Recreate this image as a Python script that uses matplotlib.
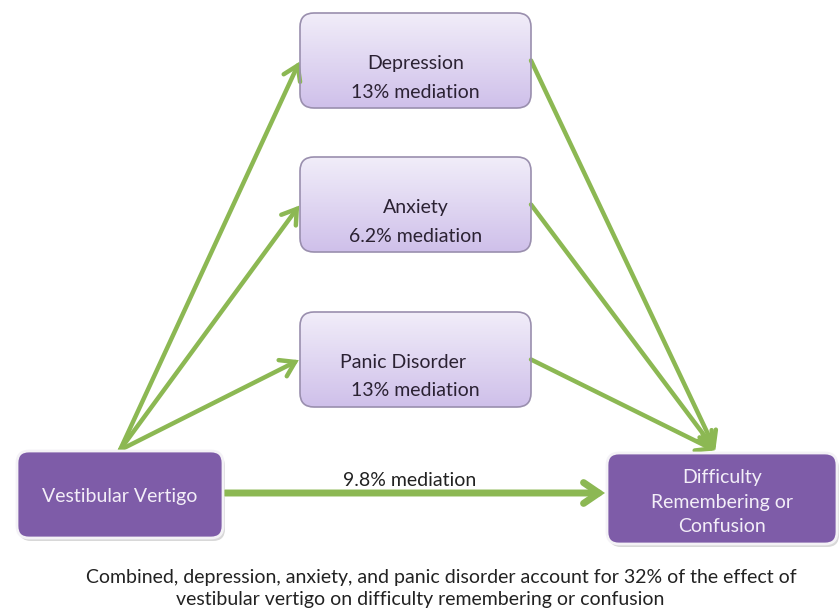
import matplotlib
matplotlib.use("Agg")
import matplotlib.pyplot as plt
import numpy as np
from matplotlib.patches import FancyBboxPatch, FancyArrowPatch
from matplotlib.colors import LinearSegmentedColormap

plt.rcParams['font.family'] = ['Lato', 'DejaVu Sans']

# data
predictor = "Vestibular Vertigo"
outcome_lines = ["Difficulty", "Remembering or", "Confusion"]
mediators = ["Depression", "Anxiety", "Panic Disorder"]
mediation_pct = ["13%", "6.2%", "13%"]
direct_pct = "9.8%"
caption_lines = ["Combined, depression, anxiety, and panic disorder account for 32% of the effect of",
                 "vestibular vertigo on difficulty remembering or confusion"]

# layout (pixel units, y downwards)
med_x0, med_x1 = 300, 531
med_tops = [13, 157, 312]
med_h = 95
pred_box = (17, 451, 206, 87)
out_box = (607, 453, 230, 91)

fig = plt.figure(figsize=(8.4, 6.13), dpi=100)
ax = fig.add_axes([0, 0, 1, 1])
ax.set_xlim(0, 840)
ax.set_ylim(613, 0)
ax.axis('off')

green = '#8cb853'
light_edge = '#9a8fae'
dark = '#7e5ca8'
fs = 14

grad = np.linspace(0, 1, 100).reshape(-1, 1)
cmap = LinearSegmentedColormap.from_list('lav', ['#f1edf9', '#cfc0ea'])

for top, name, pct in zip(med_tops, mediators, mediation_pct):
    box = FancyBboxPatch((med_x0, top), med_x1 - med_x0, med_h,
                         boxstyle="round,pad=0,rounding_size=14",
                         fc='none', ec=light_edge, lw=1.2, zorder=3)
    ax.add_patch(box)
    im = ax.imshow(grad, cmap=cmap, extent=(med_x0, med_x1, top + med_h, top),
                   aspect='auto', zorder=2)
    im.set_clip_path(box)
    cx = (med_x0 + med_x1) / 2
    if name == "Panic Disorder":
        ax.text(cx - 12, top + 50, name, ha='center', va='center', fontsize=fs,
                color='#2b2233', zorder=4)
        ax.text(cx, top + 78, pct + " mediation", ha='center', va='center',
                fontsize=fs, color='#2b2233', zorder=4)
    else:
        ax.text(cx, top + 50, name, ha='center', va='center', fontsize=fs,
                color='#2b2233', zorder=4)
        ax.text(cx, top + 79, pct + " mediation", ha='center', va='center',
                fontsize=fs, color='#2b2233', zorder=4)

for (x, y, w, h) in [pred_box, out_box]:
    ax.add_patch(FancyBboxPatch((x + 2, y + 3), w, h,
                                boxstyle="round,pad=0,rounding_size=12",
                                fc='#d8d8d8', ec='none', zorder=1))
    ax.add_patch(FancyBboxPatch((x, y), w, h,
                                boxstyle="round,pad=0,rounding_size=12",
                                fc=dark, ec='#f4f2f6', lw=2, zorder=3))

x, y, w, h = pred_box
ax.text(x + w / 2, y + h / 2 + 2, predictor, ha='center', va='center',
        fontsize=fs, color='#f3eef8', zorder=4)
x, y, w, h = out_box
for i, line in enumerate(outcome_lines):
    ax.text(x + w / 2, 478 + 24.5 * i, line, ha='center', va='center',
            fontsize=fs, color='#f3eef8', zorder=4)

# arrows
src = (120, 450)
dst = (716, 451)
for top in med_tops:
    mid = top + med_h / 2
    ax.add_patch(FancyArrowPatch(src, (med_x0, mid),
                                 arrowstyle='->,head_length=10,head_width=6.5',
                                 color=green, lw=3.2, shrinkA=0, shrinkB=1, zorder=2,
                                 joinstyle='miter'))
    ax.add_patch(FancyArrowPatch((med_x1, mid), dst,
                                 arrowstyle='->,head_length=10,head_width=6.5',
                                 color=green, lw=3.2, shrinkA=0, shrinkB=1, zorder=2,
                                 joinstyle='miter'))

ax.add_patch(FancyArrowPatch((225, 493), (605, 493),
                             arrowstyle='->,head_length=11,head_width=7.5',
                             color=green, lw=5, shrinkA=0, shrinkB=0, zorder=2,
                             joinstyle='miter'))
ax.text(410, 480, direct_pct + " mediation", ha='center', va='center',
        fontsize=fs, color='#222222')

ax.text(441, 578, caption_lines[0], ha='center', va='center', fontsize=fs,
        color='#222222')
ax.text(420, 600, caption_lines[1], ha='center', va='center', fontsize=fs,
        color='#222222')

fig.savefig('out.png', dpi=100, facecolor='white')
